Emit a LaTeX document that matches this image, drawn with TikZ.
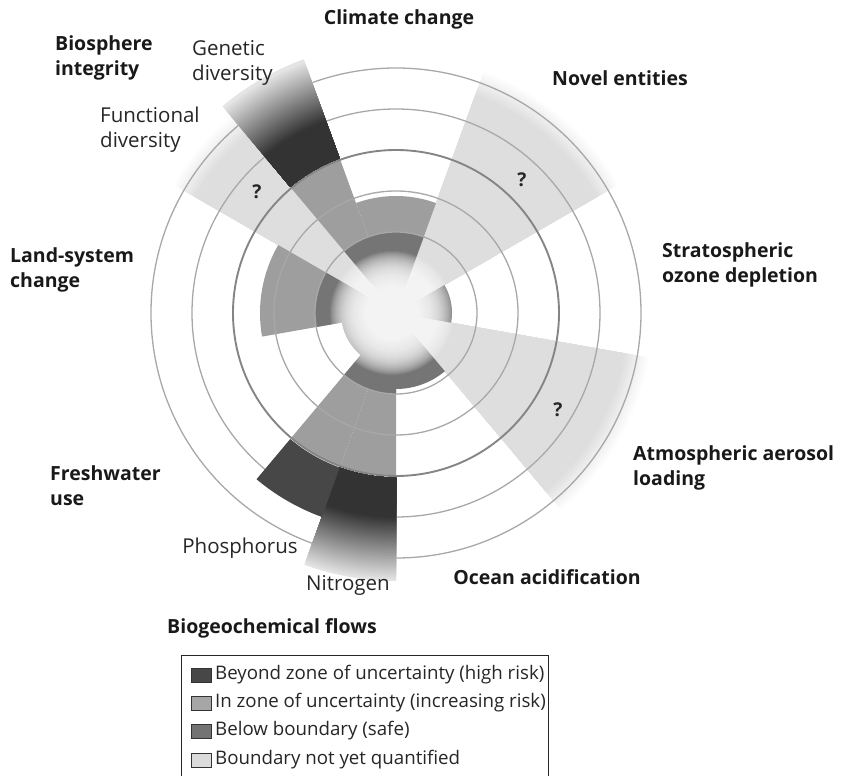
\documentclass[tikz,border=0pt]{standalone}
\usepackage{fontspec}
\setmainfont{Open Sans}
\usetikzlibrary{positioning}

\definecolor{beyond}{gray}{0.28}
\definecolor{zone}{gray}{0.62}
\definecolor{safe}{gray}{0.46}
\definecolor{unknown}{gray}{0.87}
\definecolor{ring}{gray}{0.66}

% wedge from the centre, and a band between two radii
\newcommand{\pie}[3]{(0,0) -- (#1:#3) arc[start angle=#1, end angle=#2, radius=#3] -- cycle}
\newcommand{\band}[4]{(#1:#3) arc[start angle=#1, end angle=#2, radius=#3] -- (#2:#4) arc[start angle=#2, end angle=#1, radius=#4] -- cycle}

\begin{document}
\begin{tikzpicture}[x=1pt, y=1pt,
    lab/.style={font=\fontsize{19.5}{25}\selectfont\bfseries, text=black!90, align=left, inner sep=0pt},
    sublab/.style={font=\fontsize{20.5}{25}\selectfont, text=black!85, align=left, inner sep=0pt},
    keylab/.style={font=\fontsize{18.7}{25}\selectfont, text=black!85, inner sep=0pt},
    qmark/.style={font=\fontsize{19}{25}\selectfont\bfseries, text=black!85, inner sep=0pt},
    key/.style={draw=black!80, line width=1pt, minimum width=20pt, minimum height=14pt, inner sep=0pt}]

    \useasboundingbox (-396,-463) rectangle (447,313);

    % boundaries not yet quantified (fade at the rim)
    \foreach \a/\b in {130/150, 30/70, 310/350} {
        \foreach \r in {258,256,...,232} {
            \pgfmathsetmacro\k{13*(258-\r)/26}
            \fill[black!\k] \pie{\a}{\b}{\r};
        }
        \fill[unknown] \pie{\a}{\b}{232};
    }

    % zone of uncertainty
    \fill[zone] \pie{70}{110}{117};   % climate change
    \fill[zone] \pie{110}{130}{163};  % genetic diversity
    \fill[zone] \pie{150}{190}{136};  % land-system change
    \fill[zone] \pie{230}{250}{163};  % phosphorus
    \fill[zone] \pie{250}{270}{163};  % nitrogen

    % below boundary
    \fill[safe] \pie{70}{130}{81};
    \fill[safe] \pie{150}{190}{81};
    \fill[safe] \pie{190}{230}{55};   % freshwater use
    \fill[safe] \pie{230}{270}{81};
    \fill[safe] \pie{270}{310}{76};   % ocean acidification
    \fill[safe] \pie{350}{390}{56};   % ozone

    % glow in the middle
    \foreach \r in {62,61,...,2}
        \fill[white, opacity=0.08] (-4,0) circle (\r);

    % rings, the third one heavier
    \foreach \r in {81,122,204,245}
        \draw[ring, line width=1.3pt] (0,0) circle (\r);
    \draw[black!48, line width=1.9pt] (0,0) circle (163);

    % beyond zone of uncertainty
    \foreach \r in {270,268,...,165} {
        \pgfmathsetmacro\k{\r<205 ? 80 : max(10, 80-(\r-205)*1.1)}
        \fill[black!\k] \band{110}{130}{164.5}{\r};
    }
    \foreach \r in {268,266,...,165} {
        \pgfmathsetmacro\k{\r<205 ? 80 : max(10, 80-(\r-205)*1.1)}
        \fill[black!\k] \band{250}{270}{164.5}{\r};
    }
    \fill[black!72] \band{230}{250}{164.5}{217};

    % question marks
    \node[qmark] (q1) at (-139,121) {?};
    \node[qmark] (q2) at (126,133) {?};
    \node[qmark] (q3) at (162,-97) {?};

    % labels
    \node[lab] (climate) at (3,294) {Climate change};
    \node[lab, anchor=west] (bio) at (-341,255.5) {Biosphere\\integrity};
    \node[sublab, anchor=west] (genetic) at (-204,250.5) {Genetic\\diversity};
    \node[sublab, anchor=west] (functional) at (-296,183.5) {Functional\\diversity};
    \node[lab, anchor=west] (land) at (-386,43.5) {Land-system\\change};
    \node[lab, anchor=west] (fresh) at (-346,-173) {Freshwater\\use};
    \node[sublab] (phos) at (-156,-235) {Phosphorus};
    \node[sublab] (nitro) at (-48,-272) {Nitrogen};
    \node[lab] (biogeo) at (-124,-315) {Biogeochemical flows};
    \node[lab] (ocean) at (151,-264) {Ocean acidification};
    \node[lab, anchor=west] (aerosol) at (237,-154.5) {Atmospheric aerosol\\loading};
    \node[lab, anchor=west] (ozone) at (266,48.5) {Stratospheric\\ozone depletion};
    \node[lab] (novel) at (224,235) {Novel entities};

    % key
    \draw[black!85, line width=1pt] (-214,-464) -- (-214,-342) -- (152,-342) -- (152,-464);
    \node[key, fill=beyond] (kbeyond) at (-194.5,-362) {};
    \node[key, fill=black!35] (kzone) at (-194.5,-390) {};
    \node[key, fill=black!55] (ksafe) at (-194.5,-418) {};
    \node[key, fill=black!14] (kunknown) at (-194.5,-447) {};
    \node[keylab, right=3pt of kbeyond] (tbeyond) {Beyond zone of uncertainty (high risk)};
    \node[keylab, right=3pt of kzone] (tzone) {In zone of uncertainty (increasing risk)};
    \node[keylab, right=3pt of ksafe] (tsafe) {Below boundary (safe)};
    \node[keylab, right=3pt of kunknown] (tunknown) {Boundary not yet quantified};

\end{tikzpicture}
\end{document}
